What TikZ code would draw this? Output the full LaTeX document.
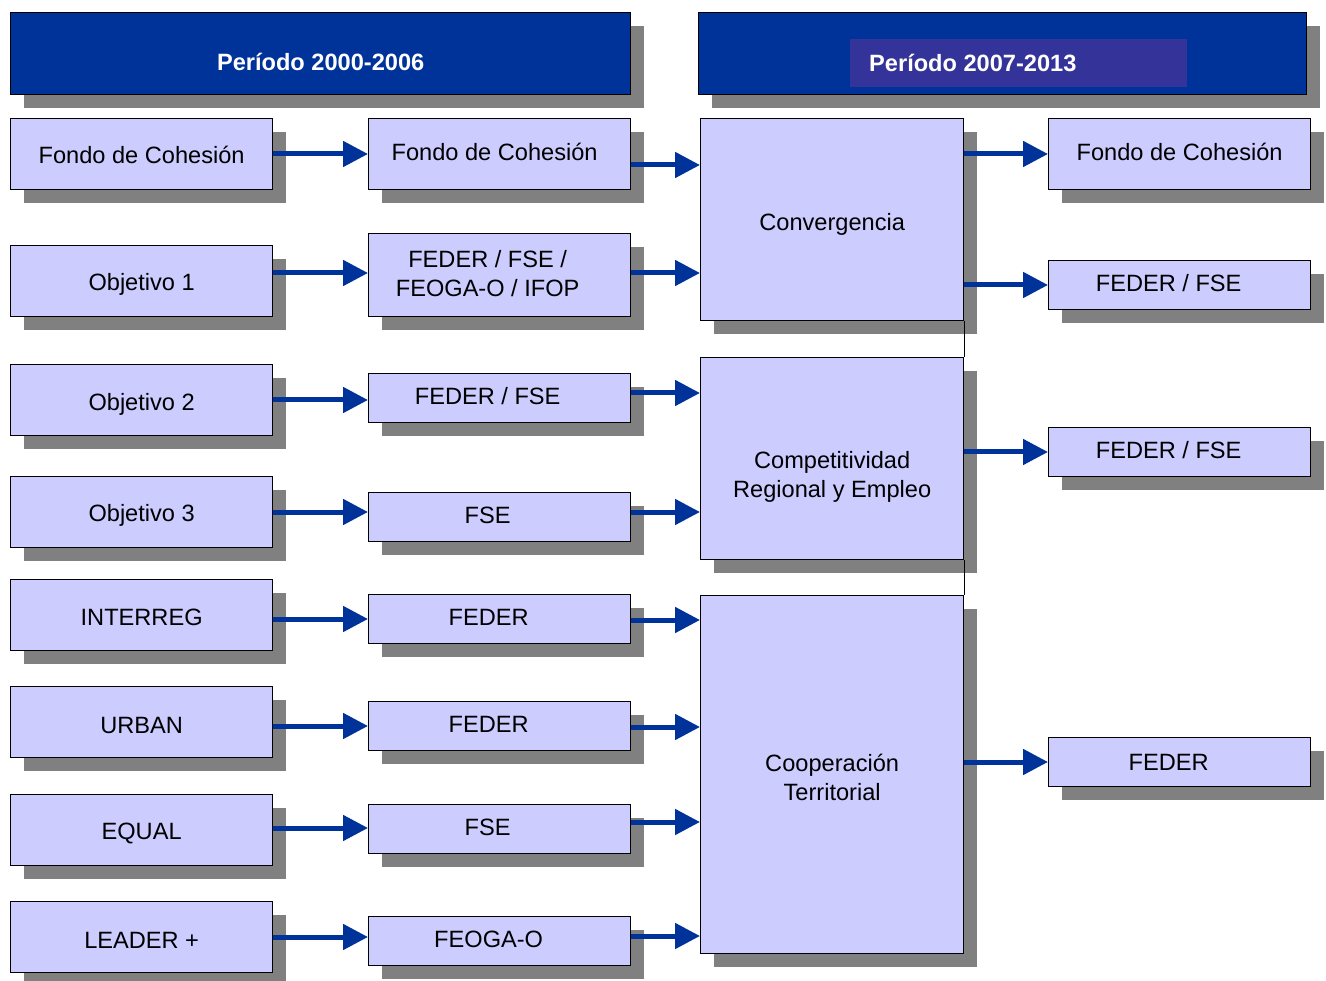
\documentclass[tikz,border=0pt]{standalone}
\usepackage{fontspec}
\setmainfont{Liberation Sans}
\usetikzlibrary{arrows.meta,shadows}

\definecolor{hdrblue}{HTML}{003399}
\definecolor{hdrinner}{HTML}{333399}
\definecolor{boxfill}{HTML}{CCCCFF}
\definecolor{shadowgray}{HTML}{808080}

\tikzset{
  boxtext/.style={align=center, font=\fontsize{23.6}{29}\selectfont},
  box/.style={draw=black, line width=1.3pt, fill=boxfill, anchor=north west,
    inner sep=0pt, boxtext,
    general shadow={fill=shadowgray, draw=none, shadow xshift=13pt, shadow yshift=-13pt}},
  hdr/.style={box, fill=hdrblue},
  htext/.style={text=white, font=\fontsize{23.6}{29}\selectfont\bfseries, inner sep=0pt},
  conn/.style={draw=hdrblue, line width=5pt, -{Triangle[length=25pt,width=25pt]}},
}

\begin{document}
\begin{tikzpicture}[x=1pt, y=-1pt]
  \useasboundingbox (0,0) rectangle (1326,981);

  \node[hdr, minimum width=620pt, minimum height=82pt,
    label={[htext, yshift=-8pt]center:Período 2000-2006}] (h1) at (10,12) {};
  \node[hdr, minimum width=608pt, minimum height=82pt] (h2) at (698,12) {};
  \node[fill=hdrinner, anchor=north west, minimum width=337pt, minimum height=48pt,
    inner sep=0pt] (h2in) at (850,39) {};
  \node[htext, anchor=west] (h2t) at (869,63) {Período 2007-2013};

  \foreach \n/\y/\dy/\t in {1/118/-1/{Fondo de Cohesión}, 2/245/-3/{Objetivo 1},
      3/364/-4/{Objetivo 2}, 4/476/-3/{Objetivo 3}, 5/579/-2/{INTERREG},
      6/686/-3/{URBAN}, 7/794/-3/{EQUAL}, 8/901/-3/{LEADER +}}
    \node[box, minimum width=262pt, minimum height=71pt,
      label={[boxtext, yshift=\dy pt]center:\t}] (l\n) at (10,\y) {};

  \foreach \n/\y/\h/\dx/\t in {1/118/71/-5/{Fondo de Cohesión},
      2/233/83/-12/{FEDER / FSE /\\FEOGA-O / IFOP}, 3/373/49/-12/{FEDER / FSE},
      4/492/49/-12/{FSE}, 5/594/49/-11/{FEDER}, 6/701/49/-11/{FEDER},
      7/804/49/-12/{FSE}, 8/916/49/-11/{FEOGA-O}}
    \node[box, minimum width=262pt, minimum height=\h pt,
      label={[boxtext, xshift=\dx pt, yshift=2pt]center:\t}] (m\n) at (368,\y) {};

  \node[box, minimum width=263pt, minimum height=202pt,
    label={[boxtext, yshift=-5pt]center:Convergencia}] (conv) at (700,118) {};
  \node[box, minimum width=263pt, minimum height=202pt,
    label={[boxtext, yshift=-18pt]center:Competitividad\\Regional y Empleo}] (comp) at (700,357) {};
  \node[box, minimum width=263pt, minimum height=358pt,
    label={[boxtext, yshift=-3pt]center:Cooperación\\Territorial}] (coop) at (700,595) {};

  \node[box, minimum width=262pt, minimum height=71pt,
    label={[boxtext, yshift=2pt]center:Fondo de Cohesión}] (r1) at (1048,118) {};
  \node[box, minimum width=262pt, minimum height=49pt,
    label={[boxtext, xshift=-11pt, yshift=2pt]center:FEDER / FSE}] (r2) at (1048,260) {};
  \node[box, minimum width=262pt, minimum height=49pt,
    label={[boxtext, xshift=-11pt, yshift=2pt]center:FEDER / FSE}] (r3) at (1048,427) {};
  \node[box, minimum width=262pt, minimum height=49pt,
    label={[boxtext, xshift=-11pt]center:FEDER}] (r4) at (1048,737) {};

  \draw[line width=1.3pt] (conv.south east) -- (comp.north east);
  \draw[line width=1.3pt] (comp.south east) -- (coop.north east);

  \foreach \n/\y in {1/154, 2/273, 3/400, 4/512, 5/619, 6/726, 7/828, 8/937}
    \draw[conn] (l\n.east |- 0,\y) -- (m\n.west |- 0,\y);

  \foreach \n/\g/\y in {1/conv/165, 2/conv/273, 3/comp/393, 4/comp/512,
      5/coop/620, 6/coop/727, 7/coop/822, 8/coop/936}
    \draw[conn] (m\n.east |- 0,\y) -- (\g.west |- 0,\y);

  \foreach \g/\n/\y in {conv/1/154, conv/2/285, comp/3/452, coop/4/762}
    \draw[conn] (\g.east |- 0,\y) -- (r\n.west |- 0,\y);
\end{tikzpicture}
\end{document}
